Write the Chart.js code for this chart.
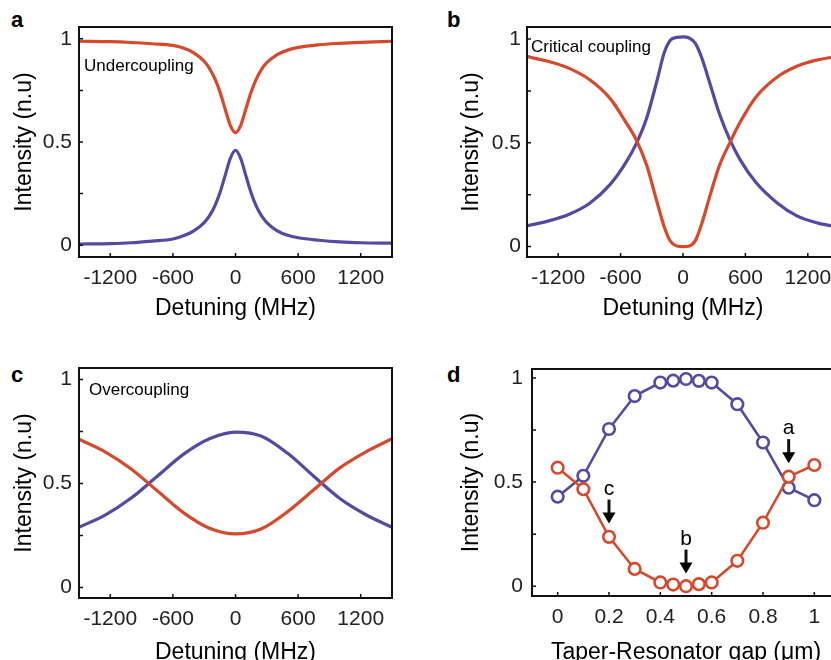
<!DOCTYPE html>
<html>
<head>
<meta charset="utf-8">
<script src="https://cdn.jsdelivr.net/npm/chart.js@4.4.1/dist/chart.umd.min.js"></script>
<style>
  html, body { margin: 0; padding: 0; background: #fff; }
  body { width: 831px; height: 660px; overflow: hidden; position: relative; }
  canvas { position: absolute; }
  .tag { position: absolute; font: bold 22px "Liberation Sans", Arial, sans-serif; color: #000; }
</style>
</head>
<body>
<div class="tag" style="left:11px;top:7px">a</div>
<div class="tag" style="left:447px;top:7px">b</div>
<div class="tag" style="left:11px;top:362px">c</div>
<div class="tag" style="left:447px;top:362px">d</div>
<canvas id="pa" width="415" height="330" style="left:0;top:0"></canvas>
<canvas id="pb" width="440" height="330" style="left:415px;top:0"></canvas>
<canvas id="pc" width="415" height="341" style="left:0;top:330px"></canvas>
<canvas id="pd" width="440" height="341" style="left:415px;top:330px"></canvas>
<script>
// ---- data ----
const detuningTicks = [-1200, -600, 0, 600, 1200];
const gapTicks = [0, 0.2, 0.4, 0.6, 0.8, 1];
const intensityTicks = [0, 0.25, 0.5, 0.75, 1];
const intensityLabels = [0, 0.5, 1];

// a: undercoupling
const detuningA = [-1500, -1200, -1000, -800, -600, -500, -400, -300, -250, -200, -150, -100, -50, 0,
                   50, 100, 150, 200, 250, 300, 400, 500, 600, 800, 1000, 1200, 1500];
const redA  = [0.988, 0.986, 0.982, 0.976, 0.968, 0.955, 0.932, 0.891, 0.857, 0.809, 0.744, 0.661, 0.581, 0.545,
               0.581, 0.661, 0.742, 0.806, 0.852, 0.884, 0.923, 0.945, 0.958, 0.971, 0.978, 0.983, 0.988];
const blueA = [0.006, 0.008, 0.012, 0.020, 0.030, 0.046, 0.070, 0.110, 0.142, 0.188, 0.253, 0.336, 0.420, 0.460,
               0.420, 0.336, 0.253, 0.188, 0.142, 0.110, 0.070, 0.048, 0.036, 0.024, 0.016, 0.012, 0.010];

// b: critical coupling
const detuningB = [-1500, -1300, -1100, -900, -700, -550, -450, -350, -250, -180, -120, -60, 0,
                   60, 120, 180, 250, 350, 450, 550, 700, 900, 1100, 1300, 1500];
const redB  = [0.915, 0.893, 0.860, 0.805, 0.713, 0.600, 0.515, 0.393, 0.215, 0.095, 0.025, 0.003, 0.0,
               0.003, 0.030, 0.110, 0.230, 0.390, 0.500, 0.600, 0.720, 0.815, 0.870, 0.900, 0.918];
const blueB = [0.100, 0.123, 0.155, 0.208, 0.300, 0.405, 0.495, 0.618, 0.800, 0.935, 0.995, 1.008, 1.010,
               1.005, 0.978, 0.910, 0.800, 0.640, 0.515, 0.418, 0.310, 0.213, 0.147, 0.113, 0.093];

// c: overcoupling
const detuningC = [-1500, -1250, -1000, -750, -500, -250, 0, 250, 500, 750, 1000, 1250, 1500];
const redC  = [0.713, 0.652, 0.570, 0.465, 0.360, 0.285, 0.258, 0.283, 0.365, 0.470, 0.575, 0.652, 0.715];
const blueC = [0.290, 0.348, 0.430, 0.535, 0.640, 0.715, 0.747, 0.727, 0.645, 0.535, 0.428, 0.350, 0.290];

// d: intensity vs gap
const gapD  = [0, 0.1, 0.2, 0.3, 0.4, 0.45, 0.5, 0.55, 0.6, 0.7, 0.8, 0.9, 1.0];
const blueD = [0.430, 0.530, 0.755, 0.913, 0.978, 0.987, 0.995, 0.986, 0.978, 0.874, 0.690, 0.473, 0.413];
const redD  = [0.569, 0.466, 0.237, 0.083, 0.018, 0.008, 0.000, 0.010, 0.018, 0.122, 0.305, 0.526, 0.582];

// arrows in d: which point they mark
const arrowLabels = ['a', 'b', 'c'];
const arrowGap = [0.9, 0.5, 0.2];
const arrowTip = [0.591, 0.061, 0.301];

const RED = '#D5492D';
const BLUE = '#5749A0';
const FONT = '"Liberation Sans", Arial, sans-serif';

const pts = (xs, ys) => xs.map((x, i) => ({ x: x, y: ys[i] }));

// frame, inward ticks, in-panel note and arrows
const framePlugin = {
    id: 'frame',
    afterDraw(chart, args, o) {
        const { ctx, chartArea: a, scales: { x, y } } = chart;
        ctx.save();
        ctx.strokeStyle = '#111';
        ctx.lineWidth = 1.5;
        ctx.beginPath();
        x.ticks.forEach(t => {
            const px = x.getPixelForValue(t.value);
            ctx.moveTo(px, a.bottom); ctx.lineTo(px, a.bottom - 4);
        });
        y.ticks.forEach(t => {
            const py = y.getPixelForValue(t.value);
            ctx.moveTo(a.left, py); ctx.lineTo(a.left + 4, py);
        });
        ctx.stroke();
        ctx.lineWidth = 2;
        ctx.strokeRect(a.left, a.top, a.right - a.left, a.bottom - a.top);

        ctx.fillStyle = '#000';
        if (o.note) {
            ctx.font = '17px ' + FONT;
            ctx.textBaseline = 'alphabetic';
            ctx.fillText(o.note, a.left + o.dx, a.top + o.dy);
        }
        if (o.arrows) {
            ctx.font = '21px ' + FONT;
            ctx.textAlign = 'center';
            o.arrows.labels.forEach((lab, i) => {
                const px = x.getPixelForValue(o.arrows.x[i]);
                const py = y.getPixelForValue(o.arrows.y[i]);
                ctx.lineWidth = 3;
                ctx.beginPath();
                ctx.moveTo(px, py - 24); ctx.lineTo(px, py - 10);
                ctx.stroke();
                ctx.beginPath();
                ctx.moveTo(px - 6.5, py - 11); ctx.lineTo(px + 6.5, py - 11); ctx.lineTo(px, py);
                ctx.closePath();
                ctx.fill();
                ctx.fillText(lab, px, py - 29);
            });
        }
        ctx.restore();
    }
};

function makeChart(id, cfg) {
    const lineSet = (data, color) => cfg.markers ? {
        data: data, borderColor: color, borderWidth: 2.5, backgroundColor: '#fff',
        pointRadius: 5.8, pointBorderWidth: 2.6, pointBorderColor: color, pointBackgroundColor: '#fff',
        tension: 0
    } : {
        data: data, borderColor: color, borderWidth: 3.2, pointRadius: 0,
        cubicInterpolationMode: 'monotone'
    };
    return new Chart(document.getElementById(id), {
        type: 'line',
        data: { datasets: [lineSet(cfg.red, RED), lineSet(cfg.blue, BLUE)] },
        options: {
            responsive: false,
            animation: false,
            layout: { padding: { top: cfg.padTop, right: cfg.padRight, left: 0, bottom: 0 } },
            plugins: {
                legend: { display: false },
                tooltip: { enabled: false },
                frame: { note: cfg.note, dx: cfg.noteDx, dy: cfg.noteDy, arrows: cfg.arrows }
            },
            scales: {
                x: {
                    type: 'linear',
                    min: cfg.xMin, max: cfg.xMax,
                    afterFit: s => { s.height = cfg.xAxisH; },
                    afterBuildTicks: s => { s.ticks = cfg.xTicks.map(v => ({ value: v })); },
                    grid: { display: false, drawTicks: false },
                    border: { display: false },
                    ticks: {
                        padding: 9, color: '#222', font: { family: FONT, size: 21 },
                        maxRotation: 0, autoSkip: false,
                        callback: v => String(v)
                    },
                    title: {
                        display: true, text: cfg.xTitle, color: '#000',
                        font: { family: FONT, size: 23 }, padding: { top: 0, bottom: cfg.xTitlePad }
                    }
                },
                y: {
                    min: cfg.yMin, max: cfg.yMax,
                    afterFit: s => { s.width = cfg.yAxisW; },
                    afterBuildTicks: s => { s.ticks = intensityTicks.map(v => ({ value: v })); },
                    grid: { display: false, drawTicks: false },
                    border: { display: false },
                    ticks: {
                        padding: cfg.yTickPad, color: '#222', font: { family: FONT, size: 21 }, autoSkip: false,
                        callback: v => intensityLabels.includes(v) ? String(v) : ''
                    },
                    title: {
                        display: true, text: 'Intensity (n.u)', color: '#000',
                        font: { family: FONT, size: 23 }, padding: { top: cfg.yTitlePad, bottom: 0 }
                    }
                }
            }
        },
        plugins: [framePlugin]
    });
}

makeChart('pa', {
    red: pts(detuningA, redA), blue: pts(detuningA, blueA),
    xMin: -1500, xMax: 1500, yMin: -0.057, yMax: 1.057, xTicks: detuningTicks,
    padTop: 27, padRight: 23, xAxisH: 73, yAxisW: 79, yTickPad: 7,
    xTitle: 'Detuning (MHz)', xTitlePad: 8, yTitlePad: 11,
    note: 'Undercoupling', noteDx: 5, noteDy: 44
});
makeChart('pb', {
    red: pts(detuningB, redB), blue: pts(detuningB, blueB),
    xMin: -1500, xMax: 1500, yMin: -0.05, yMax: 1.058, xTicks: detuningTicks,
    padTop: 27, padRight: 16, xAxisH: 73, yAxisW: 112, yTickPad: 6,
    xTitle: 'Detuning (MHz)', xTitlePad: 8, yTitlePad: 43,
    note: 'Critical coupling', noteDx: 4, noteDy: 24.5
});
makeChart('pc', {
    red: pts(detuningC, redC), blue: pts(detuningC, blueC),
    xMin: -1500, xMax: 1500, yMin: -0.05, yMax: 1.055, xTicks: detuningTicks,
    padTop: 38, padRight: 23, xAxisH: 73, yAxisW: 79, yTickPad: 7,
    xTitle: 'Detuning (MHz)', xTitlePad: 5, yTitlePad: 11,
    note: 'Overcoupling', noteDx: 10, noteDy: 27
});
makeChart('pd', {
    red: pts(gapD, redD), blue: pts(gapD, blueD), markers: true,
    xMin: -0.1, xMax: 1.1, yMin: -0.047, yMax: 1.043, xTicks: gapTicks,
    padTop: 39, padRight: 15, xAxisH: 75, yAxisW: 117, yTickPad: 9,
    xTitle: 'Taper-Resonator gap (μm)', xTitlePad: 5, yTitlePad: 43,
    arrows: { labels: arrowLabels, x: arrowGap, y: arrowTip }
});
</script>
</body>
</html>
